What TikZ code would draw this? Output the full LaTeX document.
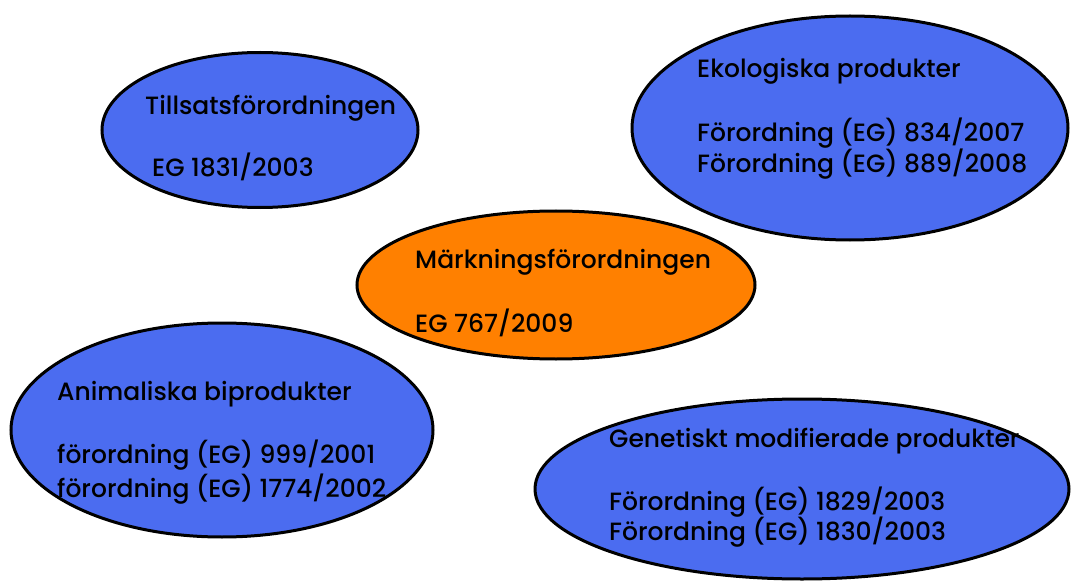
\documentclass[tikz,border=0pt]{standalone}
\usepackage{fontspec}
\setmainfont{Poppins}[UprightFont={* Medium}]
\usetikzlibrary{shapes.geometric}
\definecolor{blob}{RGB}{75,108,240}
\definecolor{orng}{RGB}{255,128,0}
\begin{document}
\begin{tikzpicture}[x=1pt,y=-1pt,
  bubble/.style={ellipse,draw=black,line width=3pt,fill=blob,inner sep=0pt},
  txt/.style={anchor=base west,inner sep=0pt,font=\fontsize{25}{30}\selectfont}]
\useasboundingbox (0,0) rectangle (1077,583);
\node[bubble,minimum width=316pt,minimum height=155pt] (e1) at (260,130) {};
\node[bubble,minimum width=436pt,minimum height=224pt] (e2) at (850,128) {};
\node[bubble,fill=orng,minimum width=398pt,minimum height=148pt] (e3) at (556,285) {};
\node[bubble,minimum width=422pt,minimum height=214pt] (e4) at (222,430) {};
\node[bubble,minimum width=534pt,minimum height=180pt] (e5) at (802,489) {};
\node[txt] (t1a) at (145,115) {Tillsatsförordningen};
\node[txt] (t1b) at (152,177) {EG 1831/2003};
\node[txt] (t2a) at (697,78) {Ekologiska produkter};
\node[txt] (t2b) at (697,142) {Förordning (EG) 834/2007};
\node[txt] (t2c) at (697,173) {Förordning (EG) 889/2008};
\node[txt] (t3a) at (415,268) {Märkningsförordningen};
\node[txt] (t3b) at (415,332) {EG 767/2009};
\node[txt] (t4a) at (57,400) {Animaliska biprodukter};
\node[txt] (t4b) at (57,463) {förordning (EG) 999/2001};
\node[txt] (t4c) at (57,497) {förordning (EG) 1774/2002};
\node[txt] (t5a) at (609,447) {Genetiskt modifierade produkter};
\node[txt] (t5b) at (609,510) {Förordning (EG) 1829/2003};
\node[txt] (t5c) at (609,540) {Förordning (EG) 1830/2003};
\end{tikzpicture}
\end{document}
